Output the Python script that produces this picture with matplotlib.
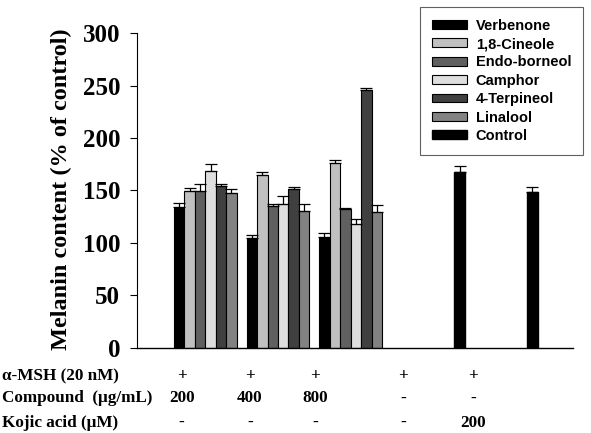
import numpy as np
import matplotlib.pyplot as plt

## Data

compounds = ['Verbenone', '1,8-Cineole', 'Endo-borneol', 'Camphor', '4-Terpineol', 'Linalool']
colors = ['#000000', '#c0c0c0', '#606060', '#dedede', '#404040', '#828282']
doses = ['200', '400', '800']

# rows = compounds, cols = 200, 400, 800 ug/mL
values = [
    [134.5, 104.7, 105.9],
    [149.5, 164.8, 175.9],
    [149.2, 135.2, 132.6],
    [168.3, 136.8, 118.0],
    [154.0, 151.1, 246.0],
    [147.3, 130.4, 129.5],
]
errors = [
    [3.9, 2.5, 3.8],
    [3.2, 2.5, 3.0],
    [6.8, 1.6, 0.6],
    [6.7, 7.9, 4.5],
    [2.5, 2.2, 2.0],
    [4.4, 6.4, 6.4],
]

control_vals = [168.0, 148.9]
control_errs = [5.7, 4.0]

## Table under the chart

row_labels = ['\u03b1-MSH (20 nM)', 'Compound  (\u03bcg/mL)', 'Kojic acid (\u03bcM)']
table = [
    ['+', '+', '+', '+', '+'],
    ['200', '400', '800', '-', '-'],
    ['-', '-', '-', '-', '200'],
]
col_x = [181.7, 250, 315, 403, 473]   # pixel x of the columns
row_y = [376.5, 398.5, 423]

## Plot

W, H = 591, 433
fig = plt.figure(figsize=(W / 100, H / 100), dpi=100)
ax = fig.add_axes([137 / W, 1 - 347.7 / H, (573 - 137) / W, (347.7 - 33.3) / H])

width = 0.144
group_x = np.arange(len(doses))
handles = []
for i, name in enumerate(compounds):
    x = group_x + (i - 2.5) * width
    b = ax.bar(x, values[i], width, color=colors[i], edgecolor='black', linewidth=0.8,
               yerr=[np.zeros(3), errors[i]], capsize=4,
               error_kw=dict(elinewidth=0.9, capthick=0.9, ecolor='black'),
               label=name)
    handles.append(b)

cb = ax.bar([3.5, 4.5], control_vals, 0.155, color='black', edgecolor='black',
            yerr=[np.zeros(2), control_errs], capsize=4,
            error_kw=dict(elinewidth=0.9, capthick=0.9, ecolor='black'),
            label='Control')
handles.append(cb)

ax.set_xlim(-0.94, 5.06)
ax.set_ylim(0, 300)
ax.set_yticks(range(0, 301, 50))
ax.set_xticks([])
ax.spines['top'].set_visible(False)
ax.spines['right'].set_visible(False)
ax.spines['left'].set_linewidth(0.8)
ax.spines['bottom'].set_linewidth(1.0)
ax.tick_params(axis='y', direction='out', length=5, width=0.8, pad=7)
for t in ax.get_yticklabels():
    t.set_fontfamily('Liberation Serif')
    t.set_fontweight('bold')
    t.set_fontsize(18)

fig.text(61 / W, 1 - 189 / H, 'Melanin content (% of control)', rotation=90,
         ha='center', va='center', family='Liberation Serif', weight='bold', fontsize=17.5)

leg = ax.legend(handles=handles, loc='upper right', bbox_to_anchor=(583 / W, 1 - 7 / H),
                bbox_transform=fig.transFigure, fancybox=False, framealpha=1,
                edgecolor='#606060',
                prop=dict(family='Liberation Sans', size=10.5, weight='bold'),
                handlelength=2.4, handleheight=0.55, labelspacing=0.3,
                handletextpad=0.6, borderpad=0.8, borderaxespad=0)
leg.get_frame().set_linewidth(0.8)

for r, lab in enumerate(row_labels):
    fig.text(2 / W, 1 - row_y[r] / H, lab, ha='left', va='center',
             family='Liberation Serif', weight='bold', fontsize=12.3)
    for c, s in enumerate(table[r]):
        fig.text(col_x[c] / W, 1 - row_y[r] / H, s, ha='center', va='center',
                 family='Liberation Serif', weight='bold', fontsize=12.3)

fig.savefig('out.png', dpi=100)
